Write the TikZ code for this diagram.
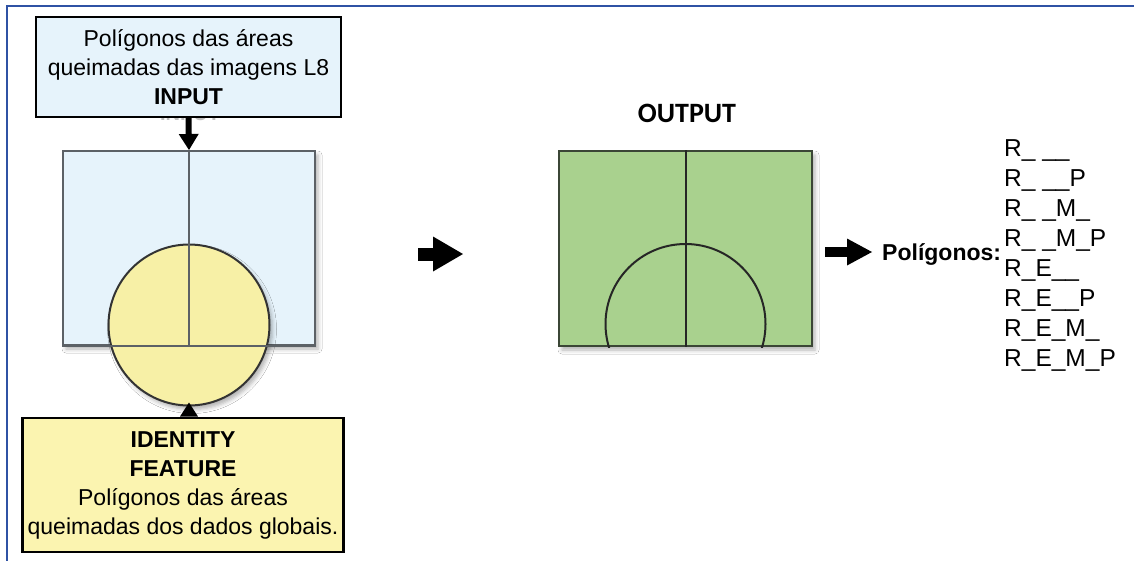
\documentclass[tikz,border=0pt]{standalone}
\usepackage{fontspec}
\setmainfont{Liberation Sans}
\newfontfamily\calfont{Carlito}
\usetikzlibrary{arrows.meta,shadows.blur}

\definecolor{framebl}{HTML}{2F52A4}
\definecolor{inblue}{HTML}{E6F3FB}
\definecolor{idyel}{HTML}{FBF4B0}
\definecolor{circyel}{HTML}{F7F0A6}
\definecolor{outgreen}{HTML}{A9D18E}
\definecolor{rimgray}{HTML}{5C6166}
\definecolor{rimgreen}{HTML}{3B4636}

\begin{document}
\begin{tikzpicture}[x=1pt,y=-1pt,
  txt/.style={font=\fontsize{23}{29}\selectfont},
  labelbox/.style={draw=black, line width=2.4pt, align=center, inner sep=0pt, txt},
  softshadow/.style={blur shadow={shadow xshift=3pt, shadow yshift=-4pt,
      shadow blur radius=4pt, shadow opacity=30}},
  shapeline/.style={line width=2pt},
  conn/.style={line width=6pt, -{Triangle[width=20pt,length=16pt,line width=0pt]}},
  bigarrow/.style={line width=13pt, -{Triangle[width=35pt,length=30pt,line width=0pt]}},
  smallarrow/.style={line width=10pt, -{Triangle[width=27pt,length=25pt,line width=0pt]}},
  rowtxt/.style={font=\fontsize{24.5}{28}\selectfont, anchor=base west, inner sep=0pt}
]
\useasboundingbox (0,0) rectangle (1134,560);
\fill[white] (0,0) rectangle (1134,560);

% page frame
\draw[framebl, line width=2.5pt] (7,562) -- (7,6) -- (1136,6);

% input layer (an older caption sits behind the label box)
\node[font=\bfseries\fontsize{20}{24}\selectfont, text=black!25, anchor=base, inner sep=0pt]
  (hidin) at (190,120) {INPUT};
\node[labelbox, fill=inblue, minimum width=305pt, minimum height=100pt] (inbox) at (188.5,67)
  {Polígonos das áreas\\queimadas das imagens L8\\\textbf{INPUT}};

\node[draw=rimgray, shapeline, fill=inblue, minimum width=252pt, minimum height=194pt,
  inner sep=0pt, softshadow] (inp) at (189,248) {};
\node[circle, draw=black!80, shapeline, fill=circyel, minimum size=161pt, inner sep=0pt,
  softshadow] (circ) at (189,325) {};
\draw[rimgray, shapeline] (inp.north) -- (inp.south);
\draw[rimgray, shapeline] (inp.south west) -- (inp.south east);

% identity layer
\node[labelbox, fill=idyel, minimum width=321pt, minimum height=134pt] (idbox) at (183,485)
  {\textbf{IDENTITY}\\\textbf{FEATURE}\\Polígonos das áreas\\queimadas dos dados globais.};

\draw[conn] (inbox.south) -- (inp.north);
\draw[conn, -{Triangle[width=18pt,length=14pt,line width=0pt]}, shorten >=-4pt]
  (idbox.north -| circ.south) -- (circ.south);

% middle arrow
\coordinate (m1) at (418,254);
\coordinate (m2) at (463,254);
\draw[bigarrow] (m1) -- (m2);

% output layer
\node[font=\calfont\bfseries\fontsize{28}{32}\selectfont, anchor=base, inner sep=0pt]
  (outlbl) at (687,122) {OUTPUT};
\node[draw=rimgreen, shapeline, fill=outgreen, minimum width=253pt, minimum height=195pt,
  inner sep=0pt, softshadow] (out) at (685.5,248.5) {};
\begin{scope}
  \clip (out.south west) rectangle (out.north east);
  \draw[black!85, shapeline] (685.5,324) circle[radius=80pt];
\end{scope}
\draw[black!85, shapeline] (out.north) -- (out.south);

% result list
\node[font=\bfseries\fontsize{23}{28}\selectfont, anchor=base west, inner sep=0pt]
  (pol) at (882,260) {Polígonos:};
\coordinate (a2s) at (825,252);
\coordinate (a2e) at (872,252);
\draw[smallarrow] (a2s) -- (a2e);

\foreach \t [count=\i from 0] in {R\_ \_\_, R\_ \_\_P, R\_ \_M\_, R\_ \_M\_P,
    R\_E\_\_, R\_E\_\_P, R\_E\_M\_, R\_E\_M\_P}
  \node[rowtxt] (row\i) at (1004,156+30*\i) {\t};
\end{tikzpicture}
\end{document}
